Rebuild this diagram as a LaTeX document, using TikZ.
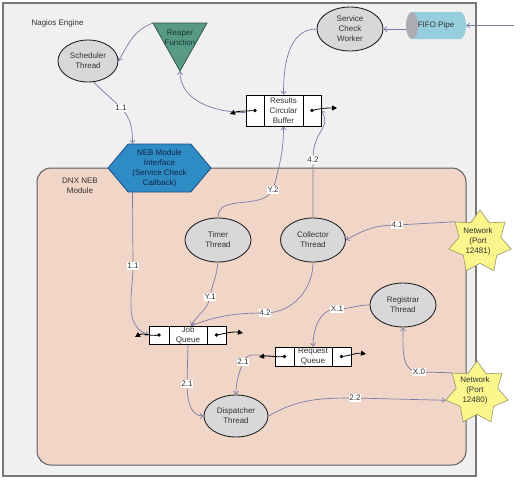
\documentclass[tikz,border=0pt]{standalone}
\usepackage{fontspec}
\setmainfont{Liberation Sans}
\usetikzlibrary{shapes.geometric,shapes.symbols,arrows.meta}
\definecolor{outerfill}{RGB}{240,240,240}
\definecolor{outerdraw}{RGB}{120,120,120}
\definecolor{peach}{RGB}{241,214,200}
\definecolor{innerdraw}{RGB}{90,90,90}
\definecolor{threadfill}{RGB}{216,216,218}
\definecolor{conncol}{RGB}{122,124,168}
\definecolor{textcol}{RGB}{50,50,50}
\definecolor{nebfill}{RGB}{45,140,196}
\definecolor{nebdraw}{RGB}{30,80,130}
\definecolor{nebtext}{RGB}{20,35,70}
\definecolor{reaperfill}{RGB}{88,154,134}
\definecolor{reaperdraw}{RGB}{45,85,75}
\definecolor{reapertext}{RGB}{25,55,50}
\definecolor{fifobody}{RGB}{150,206,222}
\definecolor{fifoend}{RGB}{172,172,176}
\definecolor{starfill}{RGB}{250,246,140}
\definecolor{stardraw}{RGB}{150,150,100}
\pgfdeclarelayer{back}
\pgfdeclarelayer{links}
\pgfsetlayers{back,links,main}
\begin{document}
\begin{tikzpicture}[x=1pt,y=-1pt,font=\fontsize{8}{10}\selectfont,
  thread/.style={ellipse, draw=black!85, line width=0.9pt, fill=threadfill, inner sep=0pt, align=center, text=textcol},
  conn/.style={draw=conncol, line width=0.7pt, -{Straight Barb[length=3pt,width=5pt]}},
  lbl/.style={fill=white, inner sep=0.8pt, text=textcol},
  qcell/.style={draw=black, fill=white, line width=0.8pt, inner sep=0pt},
  qtext/.style={align=center, text=textcol, inner sep=0pt},
  ptr/.style={draw=black, line width=0.8pt, -{Triangle[length=5pt,width=5pt]}},
  netstar/.style={star, star points=7, star point ratio=1.5, minimum size=64pt, inner sep=0pt, draw=stardraw, fill=starfill, line width=0.6pt},
  sttext/.style={align=center, text=textcol, inner sep=0pt}]
\useasboundingbox (0,0) rectangle (528,480);
\begin{pgfonlayer}{back}
  \draw[line width=2pt, draw=outerdraw, fill=outerfill] (3,3) rectangle (476,476);
  \draw[line width=1pt, draw=innerdraw, fill=peach, rounded corners=14pt] (37,168) rectangle (466,465);
\end{pgfonlayer}
\node[anchor=west, text=textcol] (nagios) at (28,23) {Nagios Engine};
\node[align=center, text=textcol] (dnx) at (80,186) {DNX NEB\\Module};

% threads
\node[thread, minimum width=60pt, minimum height=42pt] (sched) at (88,61) {Scheduler\\Thread};
\node[thread, minimum width=66pt, minimum height=44pt] (scw) at (350,29) {Service\\Check\\Worker};
\node[thread, minimum width=66pt, minimum height=44pt] (timer) at (218,240) {Timer\\Thread};
\node[thread, minimum width=65pt, minimum height=44pt] (coll) at (313,240) {Collector\\Thread};
\node[thread, minimum width=66pt, minimum height=44pt] (reg) at (403,305) {Registrar\\Thread};
\node[thread, minimum width=64pt, minimum height=42pt] (disp) at (236,416) {Dispatcher\\Thread};

% reaper triangle
\coordinate (rpL) at (153,23);
\coordinate (rpR) at (207,23);
\coordinate (rpA) at (180,71);
\draw[fill=reaperfill, draw=reaperdraw, line width=0.8pt] (rpL) -- (rpR) -- (rpA) -- cycle;
\node[align=center, text=reapertext] (reaper) at (180,38) {Reaper\\Function};

% FIFO pipe
\fill[fifobody] (412,12) -- (460,12) arc(90:-90:6pt and 13.5pt) -- (412,39) -- cycle;
\fill[fifoend] (412,25.5) ellipse (6pt and 13.5pt);
\node[minimum width=60pt, minimum height=27pt, inner sep=0pt, text=textcol] (fifo) at (436,25.5) {FIFO Pipe};
\coordinate (ext) at (514,25.5);

% NEB module interface
\node[signal, signal to=west and east, signal pointer angle=100, minimum width=103pt, minimum height=48pt, inner sep=0pt,
      fill=nebfill, draw=nebdraw, line width=0.8pt, align=center, text=nebtext] (neb) at (159.5,168)
      {NEB Module\\Interface\\(Service Check\\Callback)};

% queues
\node[qcell, minimum width=18pt, minimum height=31pt] (rb1) at (255,110.5) {};
\node[qcell, minimum width=39pt, minimum height=31pt] (rb2) at (283.5,110.5) {};
\node[qcell, minimum width=18pt, minimum height=31pt] (rb3) at (312,110.5) {};
\node[qtext] (rbt) at (rb2) {Results\\Circular\\Buffer};
\node[qcell, minimum width=20pt, minimum height=18pt] (jq1) at (159,335) {};
\node[qcell, minimum width=38pt, minimum height=18pt] (jq2) at (188,335) {};
\node[qcell, minimum width=19pt, minimum height=18pt] (jq3) at (216.5,335) {};
\node[qtext] (jqt) at (jq2) {Job\\Queue};
\node[qcell, minimum width=19pt, minimum height=19pt] (rq1) at (284.5,356.5) {};
\node[qcell, minimum width=38pt, minimum height=19pt] (rq2) at (313,356.5) {};
\node[qcell, minimum width=19pt, minimum height=19pt] (rq3) at (341.5,356.5) {};
\node[qtext] (rqt) at (rq2) {Request\\Queue};

% network stars
\node[netstar] (net1) at (480,242) {};
\node[sttext] (net1t) at (478,241) {Network\\(Port\\12481)};
\node[netstar] (net2) at (477,393) {};
\node[sttext] (net2t) at (475,390) {Network\\(Port\\12480)};

% label coordinates
\coordinate (s11) at (121,108);
\coordinate (n11) at (133,266);
\coordinate (ty2) at (273,190);
\coordinate (c42) at (313,160);
\coordinate (c41) at (397,225);
\coordinate (ty1) at (210,297);
\coordinate (c42b) at (265,313);
\coordinate (rx1) at (337,309);
\coordinate (r21) at (243,362);
\coordinate (j21) at (187,384);
\coordinate (d22) at (355,398);
\coordinate (rx0) at (419,372);

\begin{pgfonlayer}{links}
  \draw[conn] (ext) -- (fifo.east);
  \draw[conn] (fifo.west |- scw.east) -- (scw.east);
  \draw[conn] (scw.west) to[out=180,in=90] (rb2.north);
  \draw[conn] ([yshift=-2pt]rb1.west) to[out=180,in=-90] (rpA);
  \draw[conn] (rpL) to[out=200,in=60] (sched.east);
  \draw[conn] (sched.-75) to[out=-45,in=135] (s11) to[out=-45,in=90] ([xshift=-27pt]neb.north);
  \draw[conn] ([xshift=-27pt]neb.south) -- (n11) to[out=-90,in=160] (jq1.west);
  \draw[conn] (timer.north) to[out=90,in=240] (ty2) to[out=75,in=-90] (rb2.south);
  \draw[conn] (coll.north) -- (c42) .. controls (313,128) and (332,130) .. (rb3.east);
  \draw[conn] (net1.141) -- (c41) to[out=180,in=30] (coll.east);
  \draw[conn] (timer.south) to[out=-95,in=80] (ty1) to[out=-100,in=60] ([xshift=3pt]jq2.north);
  \draw[conn] (coll.south) to[out=-90,in=0] (c42b) to[out=180,in=20] ([xshift=3pt]jq2.north);
  \draw[conn] (reg.west) to[out=180,in=0] (rx1) to[out=180,in=90] (rq2.north);
  \draw[conn] (rq1.west) to[out=180,in=70] (r21) to[out=-110,in=90] (disp.north);
  \draw[conn] (jq2.south) -- (j21) to[out=-90,in=180] (disp.west);
  \draw[conn] (disp.east) to[out=30,in=180] (d22) -- (net2.193);
  \draw[conn] (net2.141) -- (rx0) to[out=180,in=-90] (reg.south);
\end{pgfonlayer}

% labels
\node[lbl] (l1) at (s11) {1.1};
\node[lbl] (l2) at (n11) {1.1};
\node[lbl] (l3) at (ty2) {Y.2};
\node[lbl] (l4) at (c42) {4.2};
\node[lbl] (l5) at (c41) {4.1};
\node[lbl] (l6) at (ty1) {Y.1};
\node[lbl] (l7) at (c42b) {4.2};
\node[lbl] (l8) at (rx1) {X.1};
\node[lbl] (l9) at (r21) {2.1};
\node[lbl] (l10) at (j21) {2.1};
\node[lbl] (l11) at (d22) {2.2};
\node[lbl] (l12) at (rx0) {X.0};

% pointers
\coordinate (rb1t) at (230,114);
\coordinate (rb3t) at (337,108);
\coordinate (jq1t) at (135,337);
\coordinate (jq3t) at (243,333);
\coordinate (rq1t) at (259,357);
\coordinate (rq3t) at (366,354);
\foreach \c in {rb1,rb3,jq1,jq3,rq1,rq3} \fill (\c.center) circle (1.8pt);
\draw[ptr] (rb1.center) to[out=185,in=20] (rb1t);
\draw[ptr] (rb3.center) to[out=15,in=180] (rb3t);
\draw[ptr] (jq1.center) to[out=190,in=30] (jq1t);
\draw[ptr] (jq3.center) to[out=10,in=170] (jq3t);
\draw[ptr] (rq1.center) to[out=185,in=10] (rq1t);
\draw[ptr] (rq3.center) to[out=5,in=170] (rq3t);
\end{tikzpicture}
\end{document}
